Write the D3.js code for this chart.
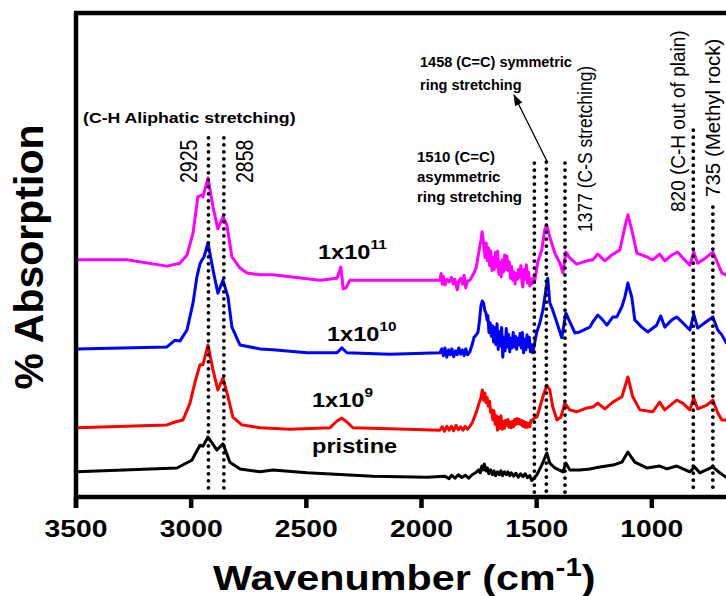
<!DOCTYPE html>
<html>
<head>
<meta charset="utf-8">
<script src="https://cdn.jsdelivr.net/npm/d3@7"></script>
<style>
  body { margin: 0; background: #fff; }
  svg { display: block; }
</style>
</head>
<body>
<div id="chart"></div>
<script>
// FTIR spectra, % absorption (arbitrary units) vs wavenumber (cm-1)
const xTicks = [3500, 3000, 2500, 2000, 1500, 1000];
const peakLines = [2925, 2858, 1510, 1458, 1377, 820, 735];
const seriesNames = ['pristine', '1x10^9', '1x10^10', '1x10^11'];
const seriesColors = ['#000000', '#ff0000', '#0000ff', '#ff00ff'];

const pristine = [
  [3496, 5.2], [3062, 6.0], [2997, 7.6], [2962, 10.7], [2949, 10.5], [2927, 12.4], [2888, 9.7],
  [2862, 11.0], [2832, 7.2], [2788, 5.8], [2701, 5.2], [2645, 5.6], [2497, 5.0], [2211, 4.3],
  [1977, 4.1], [1900, 4.3], [1880, 3.8], [1870, 4.5], [1855, 3.9], [1840, 4.6], [1825, 4.0],
  [1810, 4.5], [1795, 3.9], [1780, 4.6], [1765, 5.0], [1752, 5.6], [1745, 5.0], [1738, 6.4],
  [1732, 5.6], [1727, 6.8], [1720, 5.4], [1714, 6.0], [1708, 4.8], [1700, 5.6], [1692, 4.6],
  [1685, 5.4], [1678, 4.4], [1670, 5.2], [1662, 4.6], [1655, 5.4], [1648, 4.4], [1640, 5.2],
  [1632, 4.6], [1625, 5.2], [1617, 4.4], [1610, 5.0], [1600, 4.3], [1590, 4.9], [1580, 4.1],
  [1570, 4.8], [1560, 4.2], [1550, 4.8], [1540, 4.0], [1530, 4.4], [1522, 3.4], [1517, 3.6],
  [1510, 4.0], [1499, 4.6], [1478, 6.6], [1456, 9.1], [1443, 7.0], [1421, 6.0], [1386, 5.2],
  [1373, 7.0], [1356, 5.6], [1313, 5.6], [1269, 5.8], [1226, 6.2], [1169, 6.6], [1130, 7.2],
  [1104, 9.3], [1074, 7.2], [1022, 6.0], [966, 6.4], [935, 5.8], [892, 6.4], [835, 5.2],
  [814, 6.2], [792, 5.0], [735, 6.2], [705, 5.0], [679, 4.1], [660, 4.0]
];

const dose1e9 = [
  [3496, 14.3], [3105, 14.9], [3070, 15.5], [3036, 15.9], [3005, 19.4], [2984, 23.6], [2962, 27.3],
  [2949, 27.3], [2927, 31.4], [2905, 26.2], [2884, 22.1], [2862, 24.6], [2840, 20.7], [2819, 16.5],
  [2780, 14.9], [2701, 14.3], [2571, 14.0], [2398, 14.3], [2367, 15.7], [2346, 16.3], [2324, 15.5],
  [2298, 14.3], [2063, 14.0], [1920, 13.8], [1910, 14.5], [1900, 13.6], [1890, 14.6], [1880, 13.8],
  [1870, 14.6], [1860, 13.7], [1850, 14.8], [1840, 13.9], [1830, 14.5], [1820, 13.8], [1810, 14.6],
  [1800, 14.0], [1790, 14.6], [1780, 15.3], [1770, 16.5], [1760, 17.8], [1750, 19.4], [1742, 20.5],
  [1736, 22.1], [1730, 20.0], [1725, 21.5], [1720, 19.5], [1715, 20.5], [1710, 18.8], [1705, 19.8],
  [1700, 17.5], [1695, 18.0], [1690, 15.9], [1685, 17.8], [1680, 15.0], [1675, 16.8], [1670, 13.8],
  [1665, 16.5], [1660, 14.2], [1655, 16.8], [1650, 14.0], [1645, 15.6], [1640, 14.2], [1635, 15.8],
  [1630, 14.8], [1625, 16.0], [1620, 14.4], [1615, 15.5], [1610, 14.3], [1605, 15.6], [1600, 14.5],
  [1595, 16.0], [1590, 15.0], [1585, 16.2], [1580, 15.2], [1575, 16.0], [1570, 15.0], [1565, 15.8],
  [1560, 14.6], [1555, 15.6], [1550, 14.4], [1545, 15.4], [1540, 14.4], [1535, 15.2], [1530, 14.5],
  [1525, 15.8], [1517, 15.9], [1508, 16.4], [1499, 16.5], [1486, 18.6], [1473, 20.7], [1456, 23.1],
  [1443, 22.1], [1430, 18.6], [1412, 15.9], [1395, 16.5], [1378, 19.4], [1356, 18.0], [1326, 17.6],
  [1282, 18.4], [1256, 18.6], [1235, 19.4], [1204, 18.2], [1169, 19.6], [1130, 20.7], [1104, 24.8],
  [1083, 20.7], [1052, 18.0], [996, 17.6], [966, 19.6], [944, 18.0], [892, 20.0], [866, 19.4],
  [835, 18.0], [818, 20.5], [801, 18.2], [761, 19.0], [735, 20.0], [714, 17.4], [696, 15.9],
  [679, 15.9], [660, 15.5]
];

const dose1e10 = [
  [3496, 30.6], [3105, 31.0], [3070, 32.4], [3049, 32.2], [3018, 34.5], [2992, 40.1], [2975, 45.5],
  [2962, 48.1], [2953, 49.0], [2945, 49.5], [2927, 52.5], [2905, 46.9], [2884, 42.1], [2862, 44.8],
  [2840, 41.3], [2823, 35.1], [2788, 31.4], [2701, 30.6], [2645, 30.4], [2497, 29.8], [2367, 29.8],
  [2346, 30.8], [2324, 29.8], [2137, 29.5], [1920, 29.8], [1912, 30.6], [1905, 29.2], [1898, 30.8],
  [1890, 28.9], [1882, 30.4], [1875, 29.4], [1868, 30.6], [1860, 29.0], [1852, 30.2], [1845, 29.4],
  [1838, 30.8], [1830, 29.5], [1822, 30.4], [1815, 29.2], [1808, 30.6], [1800, 29.4], [1790, 30.0],
  [1780, 31.5], [1772, 33.0], [1764, 33.4], [1755, 34.0], [1748, 36.5], [1742, 39.5], [1736, 40.5],
  [1730, 40.0], [1725, 38.5], [1720, 38.0], [1715, 36.5], [1712, 37.5], [1707, 34.0], [1702, 36.0],
  [1697, 33.2], [1692, 35.4], [1687, 32.0], [1682, 35.0], [1677, 31.5], [1672, 35.8], [1667, 30.5],
  [1662, 34.2], [1657, 31.2], [1652, 35.0], [1647, 28.9], [1642, 33.0], [1637, 30.2], [1632, 34.8],
  [1627, 31.0], [1622, 33.6], [1617, 30.0], [1612, 32.8], [1607, 30.8], [1602, 34.0], [1597, 31.0],
  [1592, 33.2], [1587, 30.5], [1582, 32.8], [1577, 31.4], [1572, 33.8], [1567, 30.8], [1562, 34.0],
  [1557, 29.8], [1552, 32.6], [1547, 30.4], [1542, 33.5], [1537, 31.0], [1532, 33.0], [1527, 30.0],
  [1522, 31.5], [1517, 29.8], [1510, 31.5], [1500, 34.0], [1486, 36.0], [1473, 38.6], [1460, 42.8],
  [1452, 45.2], [1443, 40.1], [1430, 38.6], [1412, 36.0], [1391, 32.9], [1373, 38.0], [1356, 36.2],
  [1334, 33.9], [1313, 34.1], [1269, 35.1], [1256, 36.2], [1235, 37.6], [1217, 36.8], [1195, 35.5],
  [1169, 37.2], [1152, 37.2], [1130, 39.3], [1117, 41.3], [1104, 44.2], [1087, 41.3], [1074, 36.6],
  [1044, 35.1], [1018, 34.1], [979, 35.5], [961, 37.4], [944, 35.1], [913, 36.6], [892, 37.2],
  [870, 36.2], [835, 34.5], [818, 37.8], [801, 34.9], [770, 36.0], [735, 37.2], [714, 34.5],
  [696, 33.5], [679, 32.0], [660, 31.0]
];

const dose1e11 = [
  [3496, 49.0], [3279, 49.0], [3105, 47.7], [3049, 48.3], [3018, 50.0], [2992, 54.5], [2971, 62.0],
  [2953, 62.4], [2949, 62.0], [2927, 65.9], [2905, 59.9], [2884, 55.4], [2862, 57.9], [2845, 56.2],
  [2823, 49.6], [2788, 47.3], [2758, 46.3], [2701, 45.9], [2645, 45.9], [2441, 44.8], [2367, 45.2],
  [2350, 47.5], [2340, 43.0], [2328, 43.2], [2311, 44.8], [2137, 44.8], [1951, 44.8], [1920, 44.8],
  [1915, 46.2], [1910, 44.0], [1905, 45.6], [1898, 43.8], [1890, 45.0], [1880, 44.4], [1870, 45.4],
  [1862, 44.0], [1855, 45.0], [1845, 42.8], [1838, 44.6], [1830, 45.2], [1822, 44.0], [1815, 45.8],
  [1808, 43.2], [1800, 44.6], [1790, 44.8], [1780, 45.6], [1770, 46.5], [1762, 47.5], [1755, 49.5],
  [1748, 51.5], [1742, 53.0], [1737, 54.8], [1733, 53.5], [1730, 52.0], [1724, 49.5], [1719, 52.5],
  [1714, 48.8], [1709, 51.5], [1704, 47.8], [1699, 50.8], [1694, 46.8], [1689, 49.5], [1684, 47.0],
  [1679, 50.5], [1674, 47.5], [1669, 50.8], [1664, 46.0], [1659, 48.5], [1654, 45.5], [1649, 49.0],
  [1644, 46.5], [1639, 50.0], [1634, 47.0], [1629, 49.8], [1624, 46.8], [1619, 48.6], [1614, 45.2],
  [1609, 47.6], [1604, 44.8], [1599, 46.5], [1594, 44.0], [1589, 46.2], [1584, 45.0], [1579, 47.0],
  [1574, 45.4], [1569, 47.8], [1564, 44.5], [1560, 43.4], [1555, 47.0], [1550, 45.0], [1545, 48.0],
  [1540, 44.2], [1535, 46.5], [1530, 43.6], [1525, 45.0], [1520, 44.0], [1515, 45.2], [1508, 44.8],
  [1495, 48.6], [1478, 51.0], [1465, 55.2], [1456, 56.2], [1443, 53.7], [1421, 50.4], [1399, 48.3],
  [1386, 46.3], [1373, 50.6], [1356, 49.4], [1326, 48.1], [1282, 48.8], [1256, 49.0], [1235, 50.2],
  [1204, 48.8], [1174, 50.0], [1139, 51.0], [1117, 55.8], [1104, 58.3], [1087, 55.2], [1065, 50.4],
  [1022, 49.6], [996, 49.0], [966, 50.2], [944, 48.8], [913, 50.0], [887, 50.6], [866, 49.4],
  [835, 47.9], [818, 50.6], [801, 48.3], [761, 49.6], [735, 50.6], [714, 48.3], [696, 46.3],
  [679, 45.9], [660, 45.5]
];

const allSeries = [pristine, dose1e9, dose1e10, dose1e11];

// layout
const width = 726;
const height = 596;
const font = 'Arial, "Liberation Sans", Helvetica, sans-serif';
const stretch = 1.18; // glyphs in the figure are widened

const x = d3.scaleLinear().domain([3500, 500]).range([76, 767]);
const y = d3.scaleLinear().domain([0, 100]).range([497, 13]);

const svg = d3.select('#chart').append('svg').attr('width', width).attr('height', height)
  .style('font-family', font);

// series
const line = d3.line().x((d) => x(d[0])).y((d) => y(d[1]));
svg.selectAll('path.spec')
  .data(allSeries)
  .join('path')
  .attr('class', 'spec')
  .attr('d', line)
  .attr('fill', 'none')
  .attr('stroke', (d, i) => seriesColors[i])
  .attr('stroke-width', 3)
  .attr('stroke-linejoin', 'round');

// dotted peak markers (top end in absorption units)
const lineTop = { 2925: 74.2, 2858: 74.2, 1510: 69.0, 1458: 69.2, 1377: 69.0, 820: 75.8, 735: 59.9 };
svg.selectAll('line.peak')
  .data(peakLines)
  .join('line')
  .attr('class', 'peak')
  .attr('x1', (d) => x(d)).attr('x2', (d) => x(d))
  .attr('y1', (d) => y(lineTop[d])).attr('y2', y(0.8))
  .attr('stroke', '#000')
  .attr('stroke-width', 3.8)
  .attr('stroke-linecap', 'round')
  .attr('stroke-dasharray', '0 7');

// frame
const frame = svg.append('g').attr('stroke', '#000').attr('stroke-width', 4.5).attr('fill', 'none');
frame.append('line').attr('x1', 76).attr('x2', 76).attr('y1', y(100)).attr('y2', y(0) + 11);
frame.append('line').attr('x1', 74).attr('x2', width + 5).attr('y1', y(100)).attr('y2', y(100));
frame.append('line').attr('x1', 74).attr('x2', width + 5).attr('y1', y(0)).attr('y2', y(0));

frame.selectAll('line.tick')
  .data(xTicks)
  .join('line')
  .attr('class', 'tick')
  .attr('x1', (d) => x(d)).attr('x2', (d) => x(d))
  .attr('y1', y(0)).attr('y2', y(0) + 11);

svg.selectAll('g.tlabel')
  .data(xTicks)
  .join('g')
  .attr('class', 'tlabel')
  .attr('transform', (d) => `translate(${x(d)},537) scale(${stretch},1)`)
  .append('text')
  .attr('text-anchor', 'middle')
  .attr('font-size', 24)
  .attr('font-weight', 'bold')
  .text((d) => d);

// axis titles
const xt = svg.append('g').attr('transform', `translate(213,590) scale(${stretch},1)`)
  .append('text').attr('font-size', 35).attr('font-weight', 'bold');
xt.append('tspan').text('Wavenumber (cm');
xt.append('tspan').attr('font-size', 25).attr('dy', -14).text('-1');
xt.append('tspan').attr('dy', 14).text(')');

svg.append('text')
  .attr('transform', 'translate(43,257) rotate(-90)')
  .attr('text-anchor', 'middle')
  .attr('font-size', 41)
  .attr('font-weight', 'bold')
  .text('% Absorption');

// helpers for annotation text
function flatText(px, py, txt, size, weight, sx) {
  return svg.append('g').attr('transform', `translate(${px},${py}) scale(${sx},1)`)
    .append('text').attr('font-size', size).attr('font-weight', weight).text(txt);
}
function upText(px, py, txt, size, weight, sx) {
  return svg.append('g').attr('transform', `translate(${px},${py}) rotate(-90) scale(1,${sx})`)
    .append('text').attr('font-size', size).attr('font-weight', weight).text(txt);
}

// series labels
function doseLabel(px, py, exp) {
  const t = svg.append('g').attr('transform', `translate(${px},${py}) scale(${stretch},1)`)
    .append('text').attr('font-size', 20).attr('font-weight', 'bold');
  t.append('tspan').text('1x10');
  if (exp) t.append('tspan').attr('font-size', 13).attr('dy', -10).text(exp);
  return t;
}
doseLabel(318, 259, '11');
doseLabel(327, 341, '10');
doseLabel(312, 407, '9');
flatText(312, 453, 'pristine', 20, 'bold', stretch);

// annotations
flatText(83, 123, '(C-H Aliphatic stretching)', 15, 'bold', stretch);
upText(197, 183, '2925', 19.5, 'normal', stretch);
upText(253, 183, '2858', 19.5, 'normal', stretch);

flatText(420, 67, '1458 (C=C) symmetric', 14.5, 'bold', 1);
flatText(420, 90, 'ring stretching', 14.5, 'bold', 1);
flatText(417, 162, '1510 (C=C)', 15, 'bold', 1);
flatText(417, 182, 'asymmetric', 15, 'bold', 1);
flatText(417, 202, 'ring stretching', 15, 'bold', 1);

upText(592, 232, '1377 (C-S stretching)', 17.5, 'normal', 1.2);
upText(685, 212, '820 (C-H out of plain)', 19, 'normal', 1.1);
upText(720, 197, '735 (Methyl rock)', 20.5, 'normal', 1);

// arrow to the 1458 line
svg.append('defs').append('marker')
  .attr('id', 'arrow')
  .attr('viewBox', '0 0 10 10')
  .attr('refX', 9).attr('refY', 5)
  .attr('markerWidth', 9).attr('markerHeight', 9)
  .attr('orient', 'auto')
  .append('path').attr('d', 'M0,1.5L10,5L0,8.5Z').attr('fill', '#000');
svg.append('line')
  .attr('x1', x(1458) + 1).attr('y1', y(69.2))
  .attr('x2', 514).attr('y2', 95)
  .attr('stroke', '#000').attr('stroke-width', 1.3)
  .attr('marker-end', 'url(#arrow)');
</script>
</body>
</html>
